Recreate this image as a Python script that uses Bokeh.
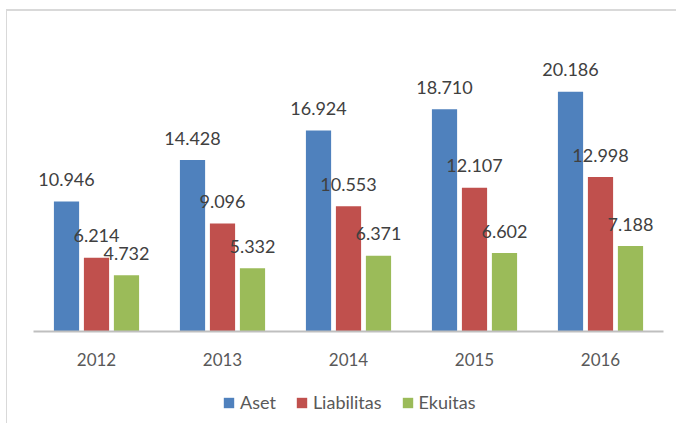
from bokeh.plotting import figure
from bokeh.layouts import column
from bokeh.models import ColumnDataSource, Legend, LegendItem, Range1d
from bokeh.transform import dodge
from bokeh.core.properties import value
from bokeh.embed import file_html
from bokeh.resources import INLINE

years = ["2012", "2013", "2014", "2015", "2016"]
aset = [10.946, 14.428, 16.924, 18.710, 20.186]
liabilitas = [6.214, 9.096, 10.553, 12.107, 12.998]
ekuitas = [4.732, 5.332, 6.371, 6.602, 7.188]
series_names = ["Aset", "Liabilitas", "Ekuitas"]
colors = ["#4F81BD", "#C0504D", "#9BBB59"]

def fmt(v):
    return f"{v:.3f}"

src = ColumnDataSource(dict(
    years=years, aset=aset, liabilitas=liabilitas, ekuitas=ekuitas,
    aset_l=[fmt(v) for v in aset],
    liabilitas_l=[fmt(v) for v in liabilitas],
    ekuitas_l=[fmt(v) for v in ekuitas],
))

p = figure(x_range=years, y_range=Range1d(0, 25), width=669, height=369,
           output_backend="svg", toolbar_location=None,
           min_border_left=26, min_border_right=13, min_border_top=23,
           min_border_bottom=49)
p.outline_line_color = None
p.xgrid.grid_line_color = None
p.ygrid.grid_line_color = None
p.yaxis.visible = False

offsets = [-0.238, 0.0, 0.238]
cols = ["aset", "liabilitas", "ekuitas"]
for col, off, c in zip(cols, offsets, colors):
    p.vbar(x=dodge("years", off, range=p.x_range), top=col, width=0.2,
           source=src, fill_color=c, line_color=None)
    p.text(x=dodge("years", off, range=p.x_range), y=col, text=col + "_l",
           source=src, text_align="center", text_baseline="alphabetic",
           y_offset=-22, text_font=value("Lato"), text_font_size="18px",
           text_color="#404040")

xa = p.xaxis[0]
xa.axis_line_color = "#bfbfbf"
xa.axis_line_width = 2
xa.major_tick_line_color = None
xa.minor_tick_line_color = None
xa.major_label_text_font = "Lato"
xa.major_label_text_font_size = "17px"
xa.major_label_text_color = "#595959"
xa.major_label_standoff = 15

# legend strip
p2 = figure(x_range=Range1d(0, 1), y_range=Range1d(0, 1), width=669, height=43,
            output_backend="svg", toolbar_location=None,
            min_border_left=0, min_border_right=0, min_border_top=0, min_border_bottom=0)
p2.outline_line_color = None
p2.grid.grid_line_color = None
p2.axis.visible = False
leg_renderers = []
for c in colors:
    leg_renderers.append(p2.vbar(x=[0.5], top=[0], bottom=[0], width=0.0,
                                 fill_color=c, line_color=None))

legend = Legend(items=[LegendItem(label=n, renderers=[r]) for n, r in zip(series_names, leg_renderers)],
                orientation="horizontal", location=(189, 10),
                label_text_font="Lato", label_text_font_size="18px",
                label_text_color="#595959", glyph_width=13, glyph_height=13,
                label_standoff=5, spacing=19, padding=0, margin=0,
                border_line_color=None, background_fill_alpha=0)
p2.add_layout(legend, "center")

layout = column(p, p2, spacing=0,
                styles={"margin-left": "6px", "margin-top": "9px",
                        "border-top": "2px solid #d9d9d9", "border-left": "1px solid #d9d9d9"})

open("out.html", "w").write(file_html(layout, INLINE))
